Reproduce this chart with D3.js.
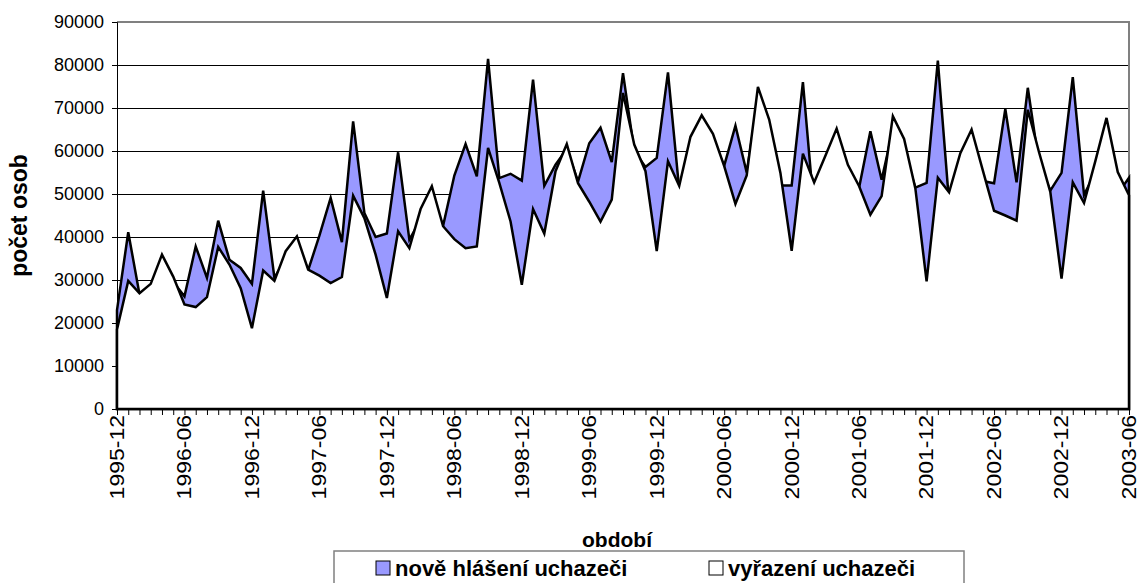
<!DOCTYPE html>
<html>
<head>
<meta charset="utf-8">
<script src="https://cdn.jsdelivr.net/npm/d3@7"></script>
<style>
  body { margin: 0; background: #fff; }
  text { font-family: "Liberation Sans", Arial, sans-serif; }
</style>
</head>
<body>
<div id="graf"></div>
<script>
// kategorie (mesice) a hodnoty obou rad
const mesice = [
  "1995-12",
  "1996-01","1996-02","1996-03","1996-04","1996-05","1996-06","1996-07","1996-08","1996-09","1996-10","1996-11","1996-12",
  "1997-01","1997-02","1997-03","1997-04","1997-05","1997-06","1997-07","1997-08","1997-09","1997-10","1997-11","1997-12",
  "1998-01","1998-02","1998-03","1998-04","1998-05","1998-06","1998-07","1998-08","1998-09","1998-10","1998-11","1998-12",
  "1999-01","1999-02","1999-03","1999-04","1999-05","1999-06","1999-07","1999-08","1999-09","1999-10","1999-11","1999-12",
  "2000-01","2000-02","2000-03","2000-04","2000-05","2000-06","2000-07","2000-08","2000-09","2000-10","2000-11","2000-12",
  "2001-01","2001-02","2001-03","2001-04","2001-05","2001-06","2001-07","2001-08","2001-09","2001-10","2001-11","2001-12",
  "2002-01","2002-02","2002-03","2002-04","2002-05","2002-06","2002-07","2002-08","2002-09","2002-10","2002-11","2002-12",
  "2003-01","2003-02","2003-03","2003-04","2003-05","2003-06"
];

const noveHlaseni = [
  23000,
  41100,26700,28000,34000,29500,26200,37800,30500,43800,34700,32800,29100,
  50800,30500,35000,38500,32300,40300,49100,38800,66900,45600,40000,40800,
  59700,39400,44000,49000,42600,54300,61600,54100,81400,53700,54700,53100,
  76600,51900,56800,60500,52900,61800,65400,57400,78100,60000,56300,58400,
  78300,51000,60000,66000,62000,56600,65900,55000,72000,64000,52000,52000,
  76000,46000,56000,62000,54000,51500,64600,53300,65000,60000,51500,52600,
  81000,48000,57000,62000,53000,52500,69800,52700,74700,57000,50800,54900,
  77200,49800,55000,65000,50000,53800
];

const vyrazeni = [
  18500,
  29800,26900,29100,35900,30800,24300,23700,26000,37700,33600,28100,18800,
  32200,29800,36700,40150,32400,31000,29300,30700,49600,44400,35900,25800,
  41300,37400,46500,51800,42500,39500,37400,37800,60700,52600,43600,28900,
  46500,40800,55300,61600,52500,48200,43600,48700,73500,61500,55300,36700,
  57600,51900,63300,68300,64000,56500,47700,54300,74900,67300,54900,36800,
  59400,52700,58900,65200,56800,51800,45200,49500,68100,62800,51300,29700,
  53800,50400,59500,65000,55500,46100,45000,43800,69600,59700,50500,30300,
  52700,47900,57600,67700,55100,49700
];

const yTicks = [0, 10000, 20000, 30000, 40000, 50000, 60000, 70000, 80000, 90000];
const nazvyRad = ["nově hlášení uchazeči", "vyřazení uchazeči"];

// rozmery grafu
const margin = {top: 22, right: 8, bottom: 174, left: 117},
    width = 1137 - margin.left - margin.right,
    height = 583 - margin.top - margin.bottom;

let svg = d3.select("#graf")
    .append("svg")
    .attr("width", 1137)
    .attr("height", 583);

let g = svg.append("g")
    .attr("transform", "translate(" + margin.left + "," + margin.top + ")");

let x = d3.scaleLinear().domain([0, mesice.length - 1]).range([0, width]);
let y = d3.scaleLinear().domain([0, 90000]).range([height, 0]);

// mrizka
g.selectAll(".grid")
    .data(yTicks.filter(d => d > 0 && d < 90000))
    .enter().append("line")
    .attr("x1", 0).attr("x2", width)
    .attr("y1", d => y(d)).attr("y2", d => y(d))
    .attr("stroke", "#000").attr("stroke-width", 1)
    .attr("shape-rendering", "crispEdges");

// ramecek plochy
g.append("path")
    .attr("d", "M0,0H" + width + "V" + height)
    .attr("fill", "none")
    .attr("stroke", "#808080")
    .attr("stroke-width", 2);

const plocha = d3.area()
    .x((d, i) => x(i))
    .y0(height)
    .y1(d => y(d));

g.append("path")
    .datum(noveHlaseni)
    .attr("d", plocha)
    .attr("fill", "#9999ff")
    .attr("stroke", "#000")
    .attr("stroke-width", 2.5)
    .attr("stroke-linejoin", "miter");

g.append("path")
    .datum(vyrazeni)
    .attr("d", plocha)
    .attr("fill", "#fff")
    .attr("stroke", "#000")
    .attr("stroke-width", 2.5)
    .attr("stroke-linejoin", "miter");

// osa y
let osaY = g.append("g")
    .call(d3.axisLeft(y).tickValues(yTicks).tickSize(5).tickPadding(8).tickFormat(d3.format("d")));
osaY.selectAll("text").style("font-size", "18px").attr("fill", "#000");

// osa x
let osaX = g.append("g")
    .attr("transform", "translate(0," + height + ")")
    .call(d3.axisBottom(x)
        .tickValues(d3.range(mesice.length))
        .tickSize(6)
        .tickFormat(i => i % 6 === 0 ? mesice[i] : ""));
osaX.selectAll("text")
    .style("font-size", "23px")
    .style("text-anchor", "end")
    .attr("fill", "#000")
    .attr("x", -6)
    .attr("y", -1)
    .attr("dy", "0.35em")
    .attr("transform", "rotate(-90) scale(1,0.9)");

svg.selectAll(".domain, .tick line").attr("stroke", "#000");

// popisky os
svg.append("text")
    .attr("transform", "translate(27," + (margin.top + height / 2) + ") rotate(-90)")
    .attr("text-anchor", "middle")
    .style("font-size", "23px")
    .style("font-weight", "bold")
    .text("počet osob");

svg.append("text")
    .attr("x", 617)
    .attr("y", 547)
    .attr("text-anchor", "middle")
    .style("font-size", "21px")
    .style("font-weight", "bold")
    .text("období");

// legenda
let legenda = svg.append("g");
legenda.append("rect")
    .attr("x", 334).attr("y", 551)
    .attr("width", 630).attr("height", 40)
    .attr("fill", "#fff")
    .attr("stroke", "#808080")
    .attr("stroke-width", 1.5);

const barvy = ["#9999ff", "#fff"];
const polohy = [376, 709];
nazvyRad.forEach((n, i) => {
    legenda.append("rect")
        .attr("x", polohy[i]).attr("y", 561)
        .attr("width", 14).attr("height", 14)
        .attr("fill", barvy[i])
        .attr("stroke", "#000");
    legenda.append("text")
        .attr("x", polohy[i] + 19).attr("y", 576)
        .style("font-size", "22px")
        .style("font-weight", "bold")
        .text(n);
});
</script>
</body>
</html>
